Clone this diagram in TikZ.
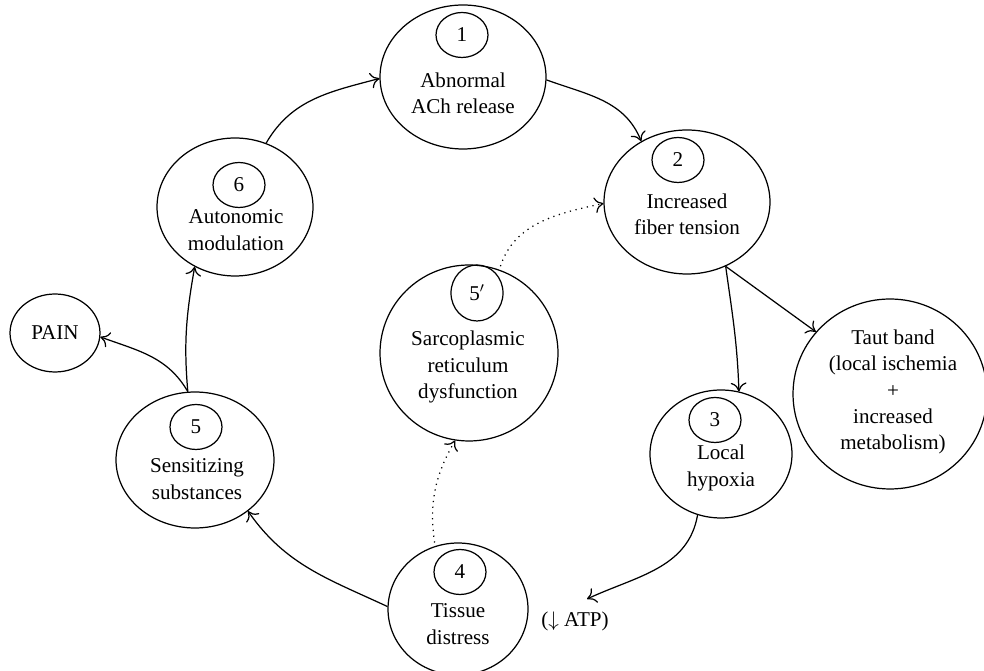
\documentclass[tikz,border=0pt]{standalone}
\usepackage{fontspec}
\setmainfont{Liberation Serif}
\usetikzlibrary{shapes.geometric,arrows.meta}

\begin{document}
\begin{tikzpicture}[x=0.02cm,y=-0.02cm,line width=0.7pt,
        font=\fontsize{12}{15}\selectfont,
        stage/.style={draw,ellipse,inner sep=0pt},
        num/.style={draw,ellipse,inner sep=0pt,minimum width=1.04cm,minimum height=0.9cm},
        txt/.style={align=center,inner sep=0pt},
        arr/.style={-{To[length=5pt,width=9pt]}},
        dotarr/.style={arr,dash pattern=on 0.7pt off 2.6pt}]
        \useasboundingbox (0,0) rectangle (984,671);
        %% Stages
        \node[stage,minimum width=3.32cm,minimum height=2.88cm] (ach) at (463,77) {};
        \node[num] (achnum) at (462,35) {1};
        \node[txt] (achtxt) at (463,93) {Abnormal\\ACh release};

        \node[stage,minimum width=3.32cm,minimum height=2.88cm] (tension) at (687,202) {};
        \node[num] (tensionnum) at (678,160) {2};
        \node[txt] (tensiontxt) at (687,214) {Increased\\fiber tension};

        \node[stage,minimum width=2.84cm,minimum height=2.56cm] (hypoxia) at (721,454) {};
        \node[num] (hypoxianum) at (715,420) {3};
        \node[txt] (hypoxiatxt) at (721,468) {Local\\hypoxia};

        \node[stage,minimum width=2.8cm,minimum height=2.64cm] (distress) at (458,609) {};
        \node[num] (distressnum) at (460,572) {4};
        \node[txt] (distresstxt) at (458,624) {Tissue\\distress};

        \node[stage,minimum width=3.16cm,minimum height=2.72cm] (sens) at (195,460) {};
        \node[num] (sensnum) at (196,427) {5};
        \node[txt] (senstxt) at (197,479) {Sensitizing\\substances};

        \node[stage,minimum width=3.56cm,minimum height=3.52cm] (sr) at (469,353) {};
        \node[num,minimum height=1.12cm] (srnum) at (477,293) {5$'$};
        \node[txt] (srtxt) at (468,367) {Sarcoplasmic\\reticulum\\dysfunction};

        \node[stage,minimum width=3.12cm,minimum height=2.76cm] (auto) at (235,207) {};
        \node[num] (autonum) at (239,185) {6};
        \node[txt] (autotxt) at (236,230) {Autonomic\\modulation};

        %% Outcomes
        \node[stage,minimum width=1.8cm,minimum height=1.56cm] (pain) at (55,333) {PAIN};
        \node[stage,minimum width=3.88cm,minimum height=3.8cm] (taut) at (890,394) {};
        \node[txt] (tauttxt) at (893,392) {Taut band\\(local ischemia\\+\\increased\\metabolism)};
        \node[txt] (atp) at (575,621) {($\downarrow$ ATP)};
        \coordinate (atpin) at (587,599);

        %% Cycle
        \draw[arr] (auto.64) to[out=60,in=195] (ach.181);
        \draw[arr] (ach.-2) to[out=-20,in=112] (tension.127);
        \draw[arr] (tension.-59) to[out=-82,in=92] (hypoxia.74);
        \draw[arr] (hypoxia.-111) to[out=-100,in=25] (atpin);
        \draw[arr] (distress.178) to[out=155,in=-55] (sens.-44);
        \draw[arr] (sens.96) to[out=95,in=-100] (auto.-124);
        \draw[arr] (sens.96) to[out=120,in=-20] (pain.-5);
        \draw[arr] (tension.-59) -- (taut.140);
        %% Dotted links
        \draw[dotarr,shorten <=2pt] (distress.110) to[out=98,in=-120] (sr.-99);
        \draw[dotarr,shorten <=2pt] (sr.70) to[out=72,in=192] (tension.181);
    \end{tikzpicture}
\end{document}
